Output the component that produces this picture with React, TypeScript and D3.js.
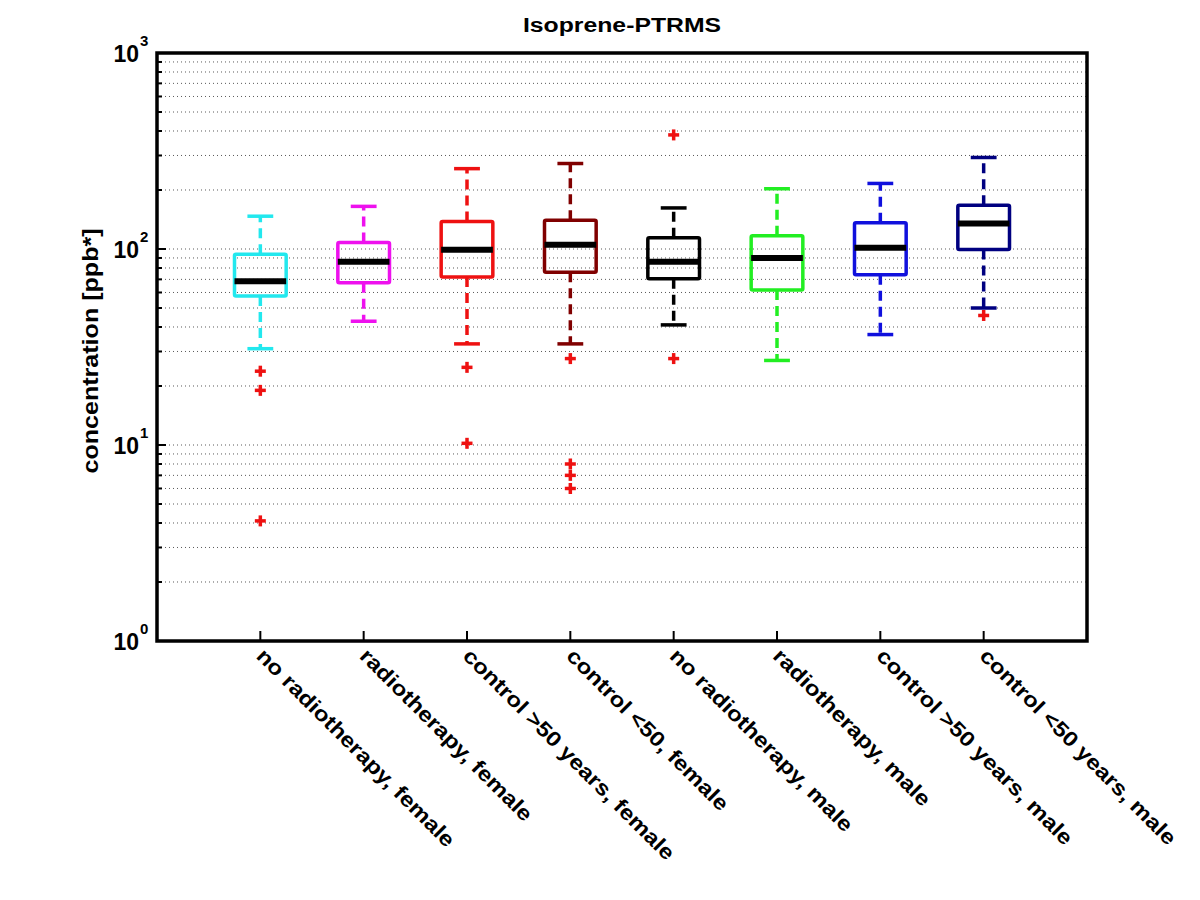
import React from "react";
import * as d3 from "d3";

const categories = [
  "no radiotherapy, female",
  "radiotherapy, female",
  "control >50 years, female",
  "control <50, female",
  "no radiotherapy, male",
  "radiotherapy, male",
  "control >50 years, male",
  "control <50 years, male",
];
const boxColors = ["#22e8ee", "#ee11ee", "#ee1111", "#800000", "#000000", "#22ee22", "#1010dd", "#000080"];
const lowerWhisker = [31, 42.8, 32.8, 32.8, 41, 27, 36.6, 50];
const q1 = [57.5, 67.3, 72, 76, 70.5, 61.7, 74, 99.5];
const medians = [68.5, 86, 99, 105, 86, 90, 101.5, 135];
const q3 = [94, 108, 138, 140, 114, 117, 136, 167];
const upperWhisker = [147, 165, 257, 273, 162, 203, 216, 293];
const outliers = [
  [23.8, 19, 4.1],
  [],
  [24.9, 10.2],
  [27.6, 8.0, 7.0, 6.0],
  [382, 27.6],
  [],
  [],
  [45.8],
];
const yTickExponents = [0, 1, 2, 3];
const title = "Isoprene-PTRMS";
const yLabel = "concentration [ppb*]";

const FONT = "'Liberation Sans', Arial, Helvetica, sans-serif";

export default function App() {
  const left = 157, right = 1087, top = 53, bottom = 641;
  const x = d3.scaleLinear().domain([0, categories.length + 1]).range([left, right]);
  const y = d3.scaleLog().domain([1, 1000]).range([bottom, top]);
  const unit = x(1) - x(0);
  const boxW = unit * 0.5;
  const capW = unit * 0.25;

  const gridVals: number[] = [];
  for (let k = 0; k < 3; k++) {
    for (let m = 1; m <= 9; m++) {
      const v = m * Math.pow(10, k);
      if (v > 1) gridVals.push(v);
    }
  }

  return (
    <svg width={1200} height={900} style={{ position: "absolute", left: 0, top: 0, background: "#fff" }} fontFamily={FONT}>
      <rect x={0} y={0} width={1200} height={900} fill="#fff" />
      {/* grid */}
      {gridVals.map((v) => (
        <line key={"g" + v} x1={left} x2={right} y1={y(v)} y2={y(v)} stroke="#5a5a5a" strokeWidth={1} strokeDasharray="1,3" />
      ))}
      {/* left minor/major ticks */}
      {gridVals.map((v) => {
        const major = Math.abs(Math.log10(v) - Math.round(Math.log10(v))) < 1e-9;
        return <line key={"t" + v} x1={left} x2={left + (major ? 9 : 5)} y1={y(v)} y2={y(v)} stroke="#000" strokeWidth={2} />;
      })}
      {/* bottom ticks */}
      {categories.map((c, i) => (
        <line key={"bt" + i} x1={x(i + 1)} x2={x(i + 1)} y1={bottom} y2={bottom - 10} stroke="#000" strokeWidth={2} />
      ))}
      {/* boxes */}
      {categories.map((c, i) => {
        const cx = x(i + 1);
        const col = boxColors[i];
        return (
          <g key={"b" + i}>
            <line x1={cx} x2={cx} y1={y(q3[i])} y2={y(upperWhisker[i])} stroke={col} strokeWidth={3.5} strokeDasharray="10,6" />
            <line x1={cx} x2={cx} y1={y(q1[i])} y2={y(lowerWhisker[i])} stroke={col} strokeWidth={3.5} strokeDasharray="10,6" />
            <line x1={cx - capW / 2} x2={cx + capW / 2} y1={y(upperWhisker[i])} y2={y(upperWhisker[i])} stroke={col} strokeWidth={3.5} />
            <line x1={cx - capW / 2} x2={cx + capW / 2} y1={y(lowerWhisker[i])} y2={y(lowerWhisker[i])} stroke={col} strokeWidth={3.5} />
            <rect x={cx - boxW / 2} y={y(q3[i])} width={boxW} height={y(q1[i]) - y(q3[i])} fill="none" stroke={col} strokeWidth={3.5} rx={1.5} />
            <line x1={cx - boxW / 2} x2={cx + boxW / 2} y1={y(medians[i])} y2={y(medians[i])} stroke="#000" strokeWidth={6} />
            {outliers[i].map((o, j) => (
              <g key={"o" + j} stroke="#ee1111" strokeWidth={3.5}>
                <line x1={cx - 5.5} x2={cx + 5.5} y1={y(o)} y2={y(o)} />
                <line x1={cx} x2={cx} y1={y(o) - 5.5} y2={y(o) + 5.5} />
              </g>
            ))}
          </g>
        );
      })}
      {/* frame */}
      <rect x={left} y={top} width={right - left} height={bottom - top} fill="none" stroke="#000" strokeWidth={3.5} />
      {/* y tick labels */}
      {yTickExponents.map((e) => {
        const yy = y(Math.pow(10, e));
        return (
          <g key={"yl" + e} fontWeight="bold" fill="#000">
            <text x={139} y={yy + 9} textAnchor="end" fontSize={23}>10</text>
            <text x={140} y={yy - 7} textAnchor="start" fontSize={15}>{e}</text>
          </g>
        );
      })}
      {/* x labels */}
      {categories.map((c, i) => (
        <text
          key={"xl" + i}
          transform={`translate(${x(i + 1) + 3},649) rotate(45) scale(1.15,1)`}
          dy="0.55em"
          fontSize={21}
          fontWeight="bold"
          fill="#000"
        >
          {c}
        </text>
      ))}
      {/* title */}
      <text transform={`translate(${(left + right) / 2},32) scale(1.18,1)`} textAnchor="middle" fontSize={21} fontWeight="bold" fill="#000">
        {title}
      </text>
      {/* y label */}
      <text transform={`translate(98,351) rotate(-90) scale(1.14,1)`} textAnchor="middle" fontSize={22} fontWeight="bold" fill="#000">
        {yLabel}
      </text>
    </svg>
  );
}
